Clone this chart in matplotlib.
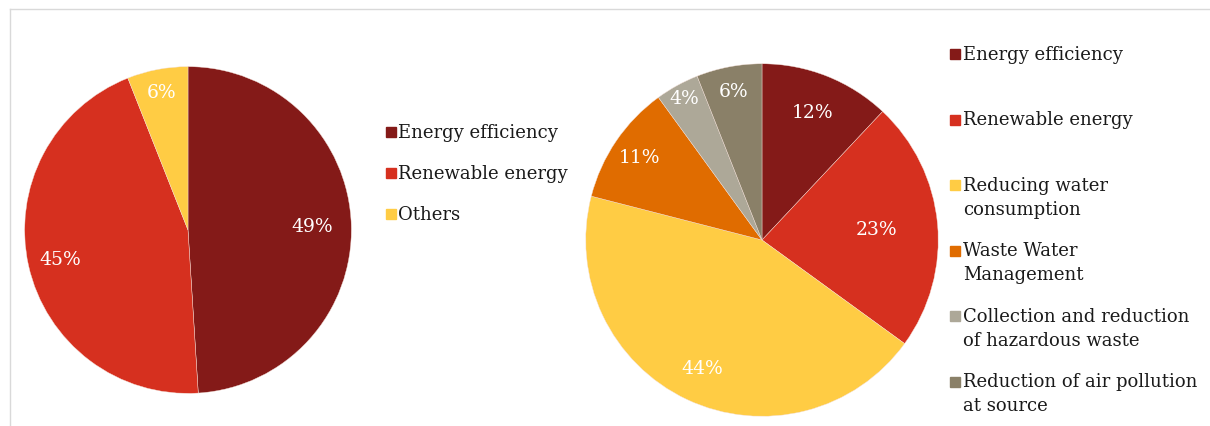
import numpy as np
import matplotlib.pyplot as plt
from matplotlib.lines import Line2D
from matplotlib.patches import Rectangle

# left chart
left_labels = ["Energy efficiency", "Renewable energy", "Others"]
left_values = [49, 45, 6]
left_colors = ["#841A18", "#D6301F", "#FFCC44"]

# right chart
right_labels = ["Energy efficiency", "Renewable energy",
                "Reducing water\nconsumption", "Waste Water\nManagement",
                "Collection and reduction\nof hazardous waste",
                "Reduction of air pollution\nat source"]
right_values = [12, 23, 44, 11, 4, 6]
right_colors = ["#841A18", "#D6301F", "#FFCC44", "#E06C00", "#ADA898", "#8A8068"]

W, H = 1210, 427
plt.rcParams['font.family'] = ['DejaVu Serif']


def px_axes(fig, cx, cy, r):
    # cx, cy in image pixels (y from top)
    return fig.add_axes([(cx - r) / W, (H - cy - r) / H, 2 * r / W, 2 * r / H])


def draw_pie(ax, values, colors, dists):
    wedges, _ = ax.pie(values, colors=colors, startangle=90, counterclock=False,
                       wedgeprops=dict(edgecolor="#f4e0d8", linewidth=0.3))
    for w, v, d in zip(wedges, values, dists):
        mid = np.deg2rad((w.theta1 + w.theta2) / 2)
        ax.text(d * np.cos(mid), d * np.sin(mid), f"{v}%", color="white",
                fontsize=13.5, ha="center", va="center")
    ax.set_xlim(-1.01, 1.01)
    ax.set_ylim(-1.01, 1.01)
    ax.axis("off")


def draw_legend(fig, labels, colors, x_box, x_text, y0, step, size):
    for i, (lab, c) in enumerate(zip(labels, colors)):
        y = y0 + i * step
        fig.patches.append(Rectangle((x_box / W, (H - y - 5) / H), 10 / W, 10 / H,
                                     color=c, transform=fig.transFigure))
        fig.text(x_text / W, (H - y + 9) / H, lab, fontsize=size, color="#1a1a1a",
                 ha="left", va="top", linespacing=1.42)


fig = plt.figure(figsize=(W / 100, H / 100), dpi=100)

ax1 = px_axes(fig, 188, 231, 165)
draw_pie(ax1, left_values, left_colors, [0.76, 0.8, 0.86])

ax2 = px_axes(fig, 762, 241, 178)
draw_pie(ax2, right_values, right_colors, [0.78, 0.65, 0.8, 0.84, 0.92, 0.86])

draw_legend(fig, left_labels, left_colors, 386, 398, 133, 41, 13)
draw_legend(fig, right_labels, right_colors, 950, 963, 55, 65.5, 13)

# frame lines
fig.add_artist(Line2D([10 / W, 1], [(H - 10) / H] * 2, color="#D9D9D9", lw=1,
                      transform=fig.transFigure))
fig.add_artist(Line2D([10 / W] * 2, [0, (H - 10) / H], color="#D9D9D9", lw=1,
                      transform=fig.transFigure))

fig.savefig("out.png", dpi=100)
